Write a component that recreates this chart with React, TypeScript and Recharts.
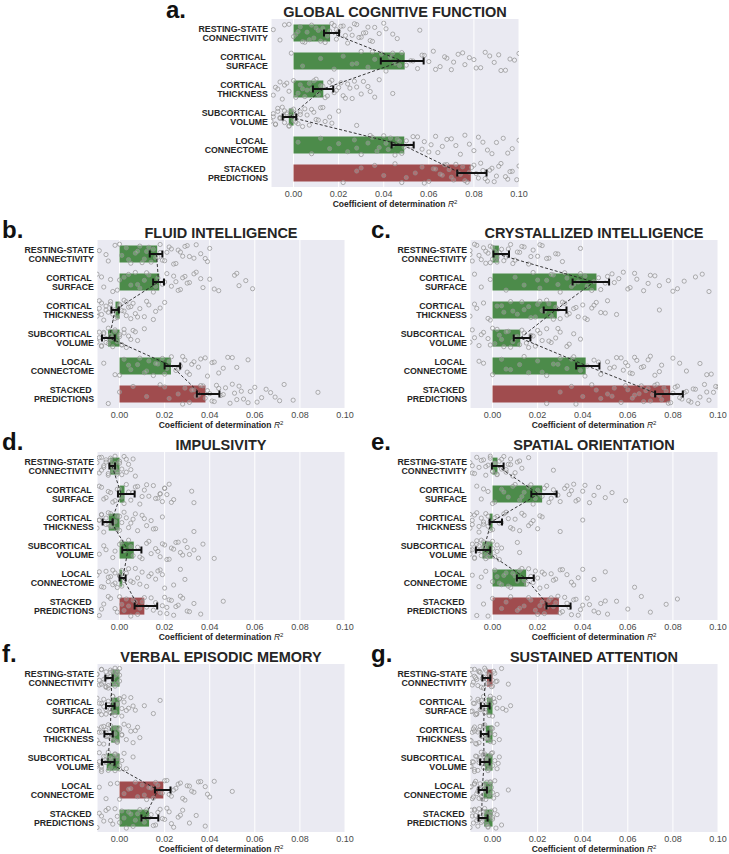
import React from 'react';
import { ComposedChart, ScatterChart, Bar, Cell, Line, ErrorBar, Scatter, XAxis, YAxis, CartesianGrid } from 'recharts';

const FONT = '"Liberation Sans", Arial, Helvetica, sans-serif';

const categories = [
  'RESTING-STATE\nCONNECTIVITY',
  'CORTICAL \nSURFACE',
  'CORTICAL \nTHICKNESS',
  'SUBCORTICAL \nVOLUME',
  'LOCAL \nCONNECTOME',
  'STACKED \nPREDICTIONS',
];
const xTicks = [0, 0.02, 0.04, 0.06, 0.08, 0.1];
const xDomain: [number, number] = [-0.01, 0.1];
const jitter = [0.12, -0.25, 0.31, -0.05, 0.22, -0.33, 0.03, 0.28, -0.18, 0.09, -0.29, 0.17, -0.11, 0.34, -0.22, 0.06, 0.25, -0.36, 0.14, -0.08, 0.3, -0.15, 0.01, -0.27, 0.2, -0.02, 0.35, -0.2, 0.1, -0.31, 0.24, -0.13, 0.05, -0.24, 0.18, -0.34, 0.07, 0.27, -0.09, 0.33, -0.16, 0.0, 0.21, -0.3, 0.15, -0.04, 0.29];

// ---- panel a: global cognitive function
const barsA = [0.0162, 0.0493, 0.0132, -0.0021, 0.0491, 0.0786];
const centerA = [0.0168, 0.0482, 0.013, -0.0018, 0.0484, 0.074];
const lowA = [0.0135, 0.0387, 0.0086, -0.0048, 0.0435, 0.0726];
const highA = [0.0202, 0.0577, 0.0176, 0.0012, 0.0533, 0.0856];
const pointsA = [
  [-0.009, -0.006, -0.002, 0.001, 0.003, 0.005, 0.006, 0.008, 0.009, 0.011, 0.012, 0.013, 0.015, 0.017, 0.019, 0.02, 0.022, 0.024, 0.025, 0.026, 0.028, 0.03, 0.032, 0.034, 0.036, 0.038, 0.04, 0.046, 0.056, 0.004, 0.021,
    0.0, 0.002, 0.007, 0.01, 0.014, 0.016, 0.018, 0.023, 0.027, 0.029, 0.031, 0.033, 0.035, 0.041, 0.044, -0.004, 0.019],
  [-0.001, 0.004, 0.012, 0.018, 0.022, 0.026, 0.03, 0.033, 0.036, 0.039, 0.041, 0.043, 0.045, 0.048, 0.05, 0.052, 0.055, 0.058, 0.06, 0.062, 0.065, 0.068, 0.07, 0.073, 0.076, 0.08, 0.083, 0.087, 0.092, 0.096, 0.1,
    0.028, 0.035, 0.047, 0.053, 0.057, 0.063, 0.067, 0.071, 0.075, 0.078, 0.081, 0.085, 0.089, 0.091, 0.094, 0.098, 0.044],
  [-0.009, -0.008, -0.006, -0.005, -0.004, -0.002, 0.0, 0.002, 0.004, 0.005, 0.007, 0.008, 0.01, 0.011, 0.013, 0.014, 0.016, 0.018, 0.02, 0.022, 0.024, 0.026, 0.028, 0.031, 0.034, 0.038, 0.044,
    -0.007, -0.003, 0.001, 0.003, 0.006, 0.009, 0.012, 0.015, 0.017, 0.019, 0.021, 0.023, 0.025, 0.027, 0.03, 0.033, 0.036],
  [-0.01, -0.009, -0.008, -0.007, -0.006, -0.005, -0.004, -0.003, -0.002, -0.001, 0.0, 0.001, 0.002, 0.003, 0.004, 0.006, 0.008, 0.01, 0.012, 0.014, 0.016, 0.02, 0.028, -0.003, -0.005, 0.005,
    -0.009, -0.008, -0.007, -0.006, -0.004, -0.002, -0.001, 0.0, 0.001, 0.003, 0.007, 0.009, 0.011, 0.013, 0.017],
  [0.002, 0.008, 0.012, 0.016, 0.02, 0.024, 0.027, 0.03, 0.033, 0.035, 0.038, 0.04, 0.042, 0.044, 0.046, 0.048, 0.05, 0.052, 0.055, 0.058, 0.06, 0.063, 0.066, 0.07, 0.074, 0.078, 0.082, 0.086, 0.09, 0.095, 0.1,
    0.028, 0.034, 0.037, 0.041, 0.043, 0.045, 0.047, 0.049, 0.053, 0.057, 0.061, 0.064, 0.068, 0.072, 0.076, 0.08, 0.084, 0.088, 0.093, 0.097],
  [0.022, 0.028, 0.036, 0.04, 0.045, 0.05, 0.054, 0.057, 0.06, 0.062, 0.065, 0.067, 0.069, 0.071, 0.072, 0.074, 0.075, 0.077, 0.078, 0.08, 0.082, 0.084, 0.086, 0.088, 0.09, 0.092, 0.095, 0.097, 0.1,
    0.058, 0.063, 0.066, 0.068, 0.07, 0.073, 0.076, 0.079, 0.081, 0.083, 0.085, 0.087, 0.089, 0.091, 0.094, 0.096, 0.099, 0.03, 0.048],
];

// ---- panel b: fluid intelligence
const barsB = [0.0167, 0.0176, -0.0018, -0.0051, 0.0228, 0.0381];
const centerB = [0.0164, 0.0173, -0.002, -0.0045, 0.0231, 0.036];
const lowB = [0.0134, 0.0149, -0.0036, -0.0078, 0.02, 0.0343];
const highB = [0.019, 0.0197, -0.0003, -0.0021, 0.0269, 0.0443];
const pointsB = [
  [-0.009, -0.005, -0.002, 0.001, 0.003, 0.005, 0.007, 0.009, 0.011, 0.012, 0.014, 0.015, 0.017, 0.018, 0.019, 0.021, 0.022, 0.024, 0.026, 0.028, 0.03, 0.033, 0.036, 0.039, 0.04,
    -0.006, 0.0, 0.004, 0.008, 0.01, 0.013, 0.016, 0.018, 0.02, 0.023, 0.025, 0.027, 0.029, 0.031, 0.034, 0.038],
  [-0.01, -0.007, -0.004, -0.001, 0.002, 0.005, 0.007, 0.009, 0.011, 0.013, 0.015, 0.017, 0.019, 0.021, 0.023, 0.025, 0.027, 0.029, 0.031, 0.034, 0.037, 0.04, 0.044, 0.051, 0.053, 0.056, 0.059,
    -0.008, -0.003, 0.0, 0.004, 0.008, 0.012, 0.016, 0.02, 0.024, 0.026, 0.028, 0.03, 0.033, 0.036, 0.042, 0.052],
  [-0.01, -0.009, -0.008, -0.007, -0.006, -0.005, -0.004, -0.003, -0.002, -0.001, 0.0, 0.001, 0.002, 0.003, 0.004, 0.005, 0.006, 0.007, 0.009, 0.011, 0.013, 0.015, 0.018, 0.02,
    -0.01, -0.009, -0.008, -0.006, -0.004, -0.002, 0.0, 0.002, 0.003, 0.005, 0.008, 0.012, 0.016],
  [-0.01, -0.009, -0.008, -0.007, -0.006, -0.005, -0.005, -0.004, -0.003, -0.002, -0.001, 0.0, 0.001, 0.002, 0.003, 0.004, 0.006, 0.008, 0.011, -0.006, -0.003,
    -0.009, -0.008, -0.007, -0.004, -0.002, 0.0, 0.001, 0.002, 0.005, 0.007],
  [-0.007, -0.002, 0.002, 0.005, 0.008, 0.011, 0.013, 0.015, 0.017, 0.019, 0.021, 0.023, 0.025, 0.027, 0.029, 0.031, 0.033, 0.035, 0.038, 0.041, 0.044, 0.048, 0.052, 0.057,
    0.0, 0.004, 0.009, 0.012, 0.016, 0.02, 0.022, 0.026, 0.028, 0.03, 0.032, 0.036, 0.039, 0.042, 0.046, 0.05],
  [-0.005, 0.0, 0.006, 0.012, 0.018, 0.022, 0.026, 0.029, 0.031, 0.033, 0.035, 0.037, 0.039, 0.041, 0.043, 0.045, 0.047, 0.049, 0.051, 0.053, 0.055, 0.058, 0.061, 0.065, 0.069, 0.073, 0.077, 0.088,
    0.02, 0.028, 0.032, 0.034, 0.036, 0.038, 0.04, 0.042, 0.044, 0.046, 0.05, 0.052, 0.054, 0.057, 0.06, 0.063, 0.067, 0.071],
];

// ---- panel c: crystallized intelligence
const barsC = [0.0028, 0.0461, 0.0285, 0.0123, 0.0413, 0.0788];
const centerC = [0.002, 0.045, 0.028, 0.0123, 0.042, 0.0733];
const lowC = [0.0004, 0.0355, 0.0227, 0.0094, 0.0371, 0.0721];
const highC = [0.0073, 0.0517, 0.0328, 0.0168, 0.0474, 0.0844];
const pointsC = [
  [-0.01, -0.009, -0.007, -0.006, -0.004, -0.003, -0.002, -0.001, 0.0, 0.001, 0.002, 0.004, 0.006, 0.008, 0.01, 0.012, 0.014, 0.016, 0.018, 0.02, 0.022, 0.025, 0.028, 0.031, 0.039,
    -0.01, -0.008, -0.005, -0.003, -0.001, 0.0, 0.002, 0.003, 0.005, 0.007, 0.009, 0.011, 0.013, 0.017, 0.021, 0.024, 0.029],
  [-0.008, -0.005, -0.001, 0.006, 0.01, 0.014, 0.018, 0.021, 0.024, 0.027, 0.03, 0.033, 0.036, 0.039, 0.042, 0.045, 0.048, 0.051, 0.054, 0.058, 0.061, 0.064, 0.067, 0.07, 0.074, 0.078, 0.082, 0.09, 0.096,
    0.02, 0.026, 0.029, 0.032, 0.035, 0.038, 0.041, 0.044, 0.047, 0.05, 0.053, 0.056, 0.06, 0.063, 0.069, 0.072, 0.08, 0.085, 0.093],
  [-0.01, -0.007, -0.004, -0.001, 0.002, 0.005, 0.008, 0.011, 0.014, 0.017, 0.02, 0.022, 0.024, 0.026, 0.028, 0.03, 0.032, 0.034, 0.036, 0.038, 0.04, 0.042, 0.044, 0.046, 0.048, 0.051, 0.055, 0.074,
    -0.008, -0.002, 0.004, 0.009, 0.013, 0.016, 0.019, 0.021, 0.023, 0.025, 0.027, 0.029, 0.031, 0.033, 0.037, 0.041, 0.045, 0.05],
  [-0.01, -0.008, -0.006, -0.004, -0.002, 0.0, 0.001, 0.003, 0.005, 0.007, 0.009, 0.011, 0.012, 0.014, 0.016, 0.018, 0.02, 0.022, 0.024, 0.026, 0.028, 0.03, 0.033, 0.036, 0.039,
    -0.009, -0.005, -0.001, 0.002, 0.004, 0.006, 0.008, 0.01, 0.013, 0.015, 0.017, 0.019, 0.021, 0.025, 0.029, 0.034],
  [-0.004, 0.0, 0.004, 0.008, 0.012, 0.016, 0.02, 0.024, 0.027, 0.03, 0.033, 0.036, 0.039, 0.042, 0.045, 0.048, 0.051, 0.054, 0.057, 0.059, 0.061, 0.063, 0.066, 0.069, 0.072, 0.075, 0.08, 0.086, 0.092, 0.097,
    -0.006, 0.006, 0.014, 0.022, 0.029, 0.035, 0.041, 0.047, 0.052, 0.055, 0.058, 0.06, 0.062, 0.064, 0.067, 0.07, 0.074, 0.083, 0.095],
  [0.024, 0.03, 0.035, 0.04, 0.044, 0.048, 0.051, 0.054, 0.057, 0.06, 0.063, 0.066, 0.068, 0.07, 0.072, 0.074, 0.076, 0.078, 0.08, 0.082, 0.084, 0.086, 0.088, 0.09, 0.092, 0.094, 0.096, 0.098, 0.1,
    0.037, 0.046, 0.053, 0.059, 0.062, 0.065, 0.067, 0.069, 0.071, 0.073, 0.075, 0.077, 0.079, 0.081, 0.083, 0.085, 0.087, 0.089, 0.091, 0.095, 0.099],
];

// ---- panel d: impulsivity
const barsD = [-0.0042, 0.0022, -0.0048, 0.0063, 0.0012, 0.011];
const centerD = [-0.0033, 0.0007, -0.0037, 0.0037, 0.0015, 0.0082];
const lowD = [-0.0045, -0.0007, -0.0075, 0.0012, 0.0, 0.0067];
const highD = [-0.002, 0.0067, -0.003, 0.0097, 0.0027, 0.0167];
const pointsD = [
  [-0.01, -0.009, -0.008, -0.007, -0.006, -0.005, -0.004, -0.004, -0.003, -0.002, -0.001, 0.0, 0.001, 0.002, 0.003, 0.004, 0.006, 0.007, -0.006, -0.002,
    -0.009, -0.008, -0.007, -0.005, -0.004, -0.003, -0.002, -0.001, 0.0, 0.001, 0.003, 0.005],
  [-0.009, -0.007, -0.005, -0.003, -0.001, 0.001, 0.003, 0.005, 0.006, 0.007, 0.009, 0.011, 0.013, 0.015, 0.017, 0.018, 0.019, 0.02, 0.021, 0.022, 0.024, 0.032, 0.033,
    -0.008, -0.006, -0.004, -0.002, 0.0, 0.002, 0.004, 0.008, 0.01, 0.012, 0.016, 0.018, 0.02, 0.023],
  [-0.01, -0.009, -0.008, -0.007, -0.006, -0.005, -0.004, -0.003, -0.002, -0.001, 0.0, 0.001, 0.002, 0.004, 0.006, 0.008, 0.01, 0.012, 0.014, 0.016, 0.019, 0.033,
    -0.009, -0.008, -0.006, -0.005, -0.004, -0.003, -0.001, 0.0, 0.003, 0.005, 0.007, 0.011, 0.015],
  [-0.009, -0.006, -0.003, 0.0, 0.002, 0.004, 0.006, 0.008, 0.01, 0.012, 0.014, 0.016, 0.018, 0.02, 0.021, 0.023, 0.025, 0.027, 0.029, 0.031, 0.033, 0.037, 0.042,
    -0.007, -0.002, 0.001, 0.005, 0.009, 0.013, 0.017, 0.019, 0.022, 0.024, 0.026, 0.028, 0.03, 0.035],
  [-0.01, -0.008, -0.006, -0.005, -0.004, -0.003, -0.002, -0.001, 0.0, 0.001, 0.002, 0.004, 0.006, 0.008, 0.01, 0.012, 0.014, 0.016, 0.018, 0.019, 0.024, 0.027, 0.029,
    -0.009, -0.007, -0.005, -0.003, -0.002, 0.0, 0.001, 0.003, 0.005, 0.007, 0.009, 0.013, 0.017, 0.02],
  [-0.009, -0.007, -0.004, -0.002, 0.0, 0.002, 0.004, 0.006, 0.008, 0.01, 0.012, 0.014, 0.016, 0.018, 0.02, 0.021, 0.022, 0.024, 0.026, 0.028, 0.03, 0.033, 0.036, 0.046,
    -0.008, -0.005, -0.001, 0.001, 0.003, 0.005, 0.007, 0.009, 0.011, 0.015, 0.019, 0.021, 0.023, 0.025, 0.027, 0.031],
];

// ---- panel e: spatial orientation
const barsE = [0.0022, 0.022, -0.0013, -0.0045, 0.0149, 0.0294];
const centerE = [0.002, 0.0205, -0.0006, -0.004, 0.0146, 0.025];
const lowE = [-0.0003, 0.0172, -0.0013, -0.0074, 0.0108, 0.0239];
const highE = [0.0049, 0.0284, 0.0042, -0.001, 0.0183, 0.0346];
const pointsE = [
  [-0.01, -0.009, -0.007, -0.006, -0.004, -0.003, -0.002, -0.001, 0.0, 0.001, 0.002, 0.003, 0.004, 0.005, 0.006, 0.007, 0.008, 0.009, 0.011, 0.013, 0.016, 0.027,
    -0.009, -0.008, -0.005, -0.003, -0.001, 0.0, 0.001, 0.002, 0.004, 0.006, 0.008, 0.01, 0.012],
  [-0.007, -0.005, -0.002, 0.001, 0.004, 0.007, 0.01, 0.012, 0.014, 0.016, 0.018, 0.02, 0.022, 0.024, 0.026, 0.028, 0.03, 0.032, 0.034, 0.036, 0.038, 0.04, 0.043, 0.047, 0.05, 0.053, 0.059,
    -0.004, 0.0, 0.005, 0.009, 0.013, 0.017, 0.019, 0.021, 0.023, 0.025, 0.027, 0.029, 0.033, 0.035, 0.037, 0.041, 0.045],
  [-0.01, -0.009, -0.008, -0.006, -0.005, -0.004, -0.003, -0.002, -0.001, 0.0, 0.002, 0.004, 0.006, 0.008, 0.01, 0.012, 0.014, 0.016, 0.018, 0.02, 0.022, 0.03, 0.04,
    -0.01, -0.009, -0.007, -0.006, -0.004, -0.002, -0.001, 0.001, 0.003, 0.005, 0.007, 0.009, 0.013, 0.017, 0.021],
  [-0.01, -0.009, -0.008, -0.007, -0.006, -0.005, -0.005, -0.004, -0.003, -0.002, -0.001, 0.0, 0.001, 0.002, 0.003, 0.004, 0.011, 0.012, -0.007, -0.003,
    -0.01, -0.009, -0.008, -0.006, -0.005, -0.004, -0.003, -0.002, 0.0, 0.002],
  [-0.009, -0.006, -0.003, 0.0, 0.002, 0.004, 0.006, 0.008, 0.01, 0.012, 0.014, 0.016, 0.018, 0.02, 0.022, 0.024, 0.026, 0.028, 0.03, 0.033, 0.036, 0.04, 0.045, 0.05, 0.063,
    -0.005, 0.001, 0.003, 0.005, 0.007, 0.009, 0.011, 0.013, 0.015, 0.017, 0.019, 0.021, 0.023, 0.027, 0.031, 0.035, 0.038],
  [-0.007, -0.004, 0.0, 0.004, 0.008, 0.011, 0.014, 0.017, 0.02, 0.022, 0.024, 0.026, 0.028, 0.03, 0.032, 0.034, 0.036, 0.038, 0.04, 0.042, 0.045, 0.048, 0.051, 0.055, 0.06, 0.066, 0.07, 0.077, 0.082,
    -0.002, 0.006, 0.012, 0.016, 0.019, 0.021, 0.023, 0.025, 0.027, 0.029, 0.031, 0.033, 0.035, 0.037, 0.039, 0.043, 0.047, 0.05],
];

// ---- panel f: verbal episodic memory
const barsF = [-0.0037, -0.0037, -0.0037, -0.0057, 0.0194, 0.0131];
const centerF = [-0.0035, -0.0037, -0.0042, -0.0052, 0.017, 0.011];
const lowF = [-0.0063, -0.006, -0.0067, -0.0078, 0.0157, 0.0097];
const highF = [-0.003, -0.0022, -0.003, -0.0022, 0.0226, 0.0172];
const pointsF = [
  [-0.01, -0.009, -0.008, -0.007, -0.006, -0.006, -0.005, -0.004, -0.003, -0.002, -0.002, -0.001, 0.0, 0.0, -0.008, -0.004, -0.001, -0.005,
    -0.01, -0.009, -0.008, -0.007, -0.006, -0.005, -0.004, -0.003, -0.002, -0.001, 0.0, -0.006, -0.003],
  [-0.01, -0.009, -0.008, -0.006, -0.005, -0.004, -0.003, -0.002, -0.001, 0.0, 0.001, 0.002, 0.004, 0.005, 0.007, 0.011, 0.015, 0.018, -0.007, -0.003,
    -0.01, -0.009, -0.008, -0.007, -0.006, -0.005, -0.004, -0.003, -0.002, -0.001, 0.0, 0.001, 0.002, 0.003, 0.006],
  [-0.01, -0.009, -0.008, -0.007, -0.006, -0.005, -0.004, -0.003, -0.002, -0.001, 0.0, 0.001, 0.002, 0.003, 0.005, 0.006, 0.008, 0.009, -0.006, -0.002,
    -0.01, -0.009, -0.008, -0.007, -0.006, -0.005, -0.004, -0.003, -0.002, -0.001, 0.0, 0.001, 0.004, 0.007],
  [-0.01, -0.009, -0.008, -0.007, -0.006, -0.005, -0.004, -0.003, -0.002, -0.001, 0.0, 0.001, 0.003, 0.006, -0.008, -0.005, -0.002,
    -0.01, -0.009, -0.008, -0.007, -0.006, -0.005, -0.004, -0.003, -0.002, -0.001, 0.0, 0.002],
  [-0.009, -0.006, -0.001, 0.002, 0.005, 0.008, 0.01, 0.012, 0.014, 0.016, 0.018, 0.02, 0.022, 0.024, 0.026, 0.028, 0.03, 0.032, 0.035, 0.038, 0.04, 0.042, 0.05,
    -0.004, 0.0, 0.004, 0.007, 0.011, 0.013, 0.015, 0.017, 0.019, 0.021, 0.023, 0.025, 0.027, 0.029, 0.031, 0.033, 0.036, 0.039],
  [-0.01, -0.008, -0.006, -0.004, -0.002, 0.0, 0.002, 0.004, 0.006, 0.008, 0.01, 0.012, 0.014, 0.016, 0.018, 0.02, 0.022, 0.024, 0.026, 0.028, 0.031, 0.034, 0.038,
    -0.009, -0.007, -0.005, -0.003, -0.001, 0.001, 0.003, 0.005, 0.007, 0.009, 0.011, 0.013, 0.015, 0.017, 0.019, 0.021, 0.023, 0.027],
];

// ---- panel g: sustained attention
const barsG = [-0.0025, -0.0025, -0.003, -0.0033, -0.004, -0.0037];
const centerG = [-0.0033, -0.0037, -0.004, -0.0037, -0.0046, -0.0048];
const lowG = [-0.0045, -0.0052, -0.0052, -0.0055, -0.0062, -0.0062];
const highG = [-0.001, -0.0013, -0.0018, -0.0013, -0.0025, -0.0022];
const pointsG = [
  [-0.01, -0.009, -0.008, -0.007, -0.006, -0.005, -0.004, -0.003, -0.002, -0.001, 0.0, 0.001, 0.002, 0.004, 0.007, -0.008, -0.006, -0.004, -0.002, 0.0,
    -0.0095, -0.0085, -0.0075, -0.0065, -0.0055, -0.0045, -0.0035, -0.0025, -0.0015, -0.0005, 0.0005, 0.0015],
  [-0.01, -0.009, -0.008, -0.007, -0.006, -0.005, -0.004, -0.003, -0.002, -0.001, 0.0, 0.001, 0.002, 0.003, 0.006, 0.008, -0.007, -0.005, -0.003, -0.001,
    -0.0095, -0.0085, -0.0075, -0.0065, -0.0055, -0.0045, -0.0035, -0.0025, -0.0015, -0.0005, 0.0005, 0.0045],
  [-0.01, -0.009, -0.008, -0.007, -0.006, -0.005, -0.004, -0.003, -0.002, -0.001, 0.0, 0.001, 0.002, 0.003, -0.008, -0.006, -0.004, -0.002, -0.001,
    -0.0095, -0.0085, -0.0075, -0.0065, -0.0055, -0.0045, -0.0035, -0.0025, -0.0015, -0.0005, 0.0005],
  [-0.01, -0.009, -0.008, -0.007, -0.006, -0.005, -0.004, -0.003, -0.002, -0.001, 0.0, 0.001, 0.002, 0.003, -0.008, -0.006, -0.004, -0.002, 0.0,
    -0.0095, -0.0085, -0.0075, -0.0065, -0.0055, -0.0045, -0.0035, -0.0025, -0.0015, -0.0005, 0.0025],
  [-0.01, -0.009, -0.008, -0.007, -0.006, -0.005, -0.004, -0.003, -0.002, -0.001, 0.0, 0.001, 0.002, 0.007, -0.008, -0.006, -0.004, -0.003, -0.001,
    -0.0095, -0.0085, -0.0075, -0.0065, -0.0055, -0.0045, -0.0035, -0.0025, -0.0015, -0.0005, 0.0005],
  [-0.01, -0.009, -0.008, -0.007, -0.006, -0.005, -0.004, -0.003, -0.002, -0.001, 0.0, 0.001, 0.002, 0.004, -0.008, -0.006, -0.004, -0.002, 0.0,
    -0.0095, -0.0085, -0.0075, -0.0065, -0.0055, -0.0045, -0.0035, -0.0025, -0.0015, -0.0005, 0.0015],
];

const panelLetters = ['a.', 'b.', 'c.', 'd.', 'e.', 'f.', 'g.'];
const panelTitles = ['GLOBAL COGNITIVE FUNCTION', 'FLUID INTELLIGENCE', 'CRYSTALLIZED INTELLIGENCE', 'IMPULSIVITY', 'SPATIAL ORIENTATION', 'VERBAL EPISODIC MEMORY', 'SUSTAINED ATTENTION'];
const highlightIndex = [5, 5, 5, 5, 5, 4, 0];
const barValues = [barsA, barsB, barsC, barsD, barsE, barsF, barsG];
const centerValues = [centerA, centerB, centerC, centerD, centerE, centerF, centerG];
const lowValues = [lowA, lowB, lowC, lowD, lowE, lowF, lowG];
const highValues = [highA, highB, highC, highD, highE, highF, highG];
const pointValues = [pointsA, pointsB, pointsC, pointsD, pointsE, pointsF, pointsG];

// layout (page coordinates of each plot area)
const PLOT_W = 248;
const PLOT_H = 168;
const YAXIS_W = 90;
const XAXIS_H = 30;
const RIGHT_M = 12;
const CHART_W = YAXIS_W + PLOT_W + RIGHT_M;
const CHART_H = PLOT_H + XAXIS_H;
const plotPos = [
  { left: 271, top: 19, letterX: 166 },
  { left: 97, top: 240, letterX: 2 },
  { left: 470, top: 240, letterX: 371 },
  { left: 97, top: 452, letterX: 2 },
  { left: 470, top: 452, letterX: 371 },
  { left: 97, top: 664, letterX: 2 },
  { left: 470, top: 664, letterX: 371 },
];

const GREEN = '#4c8b4a';
const RED = '#a04c4e';

const CatTick = (props: any) => {
  const { x, y, payload } = props;
  const lines = String(payload.value).split('\n');
  return (
    <text x={x} y={y} textAnchor="end" fontFamily={FONT} fontSize={8.8} fontWeight="bold" fill="#262626" xmlSpace="preserve" style={{ whiteSpace: 'pre' }}>
      <tspan x={x} y={y - 0.7}>{lines[0]}</tspan>
      <tspan x={x} y={y + 8.4}>{lines[1]}</tspan>
    </text>
  );
};

const Dot = (props: any) => {
  const { cx, cy } = props;
  if (cx == null || cy == null || isNaN(cx) || isNaN(cy)) return null;
  return <circle cx={cx} cy={cy} r={2.1} fill="rgba(255,255,255,0.2)" stroke="#8f8f8f" strokeWidth={0.7} />;
};

const layerStyle = (left: number, top: number): React.CSSProperties => ({ position: 'absolute', left, top });

function Panel({ idx }: { idx: number }) {
  const pos = plotPos[idx];
  const bars = barValues[idx];
  const centers = centerValues[idx];
  const lows = lowValues[idx];
  const highs = highValues[idx];
  const nCat = categories.length;
  const rows = categories.map((cat, i) => ({
    cat,
    bar: bars[i],
    center: centers[i],
    err: [centers[i] - lows[i], highs[i] - centers[i]],
  }));
  // one point set per category; "pos" = row slot counted from the bottom of the plot, plus a small jitter
  const groups = pointValues[idx].map((arr, i) =>
    arr.map((v, k) => ({ val: v, pos: nCat - 1 - i + jitter[(k + i * 7) % jitter.length] }))
  );
  const L = pos.left - YAXIS_W;
  const T = pos.top;
  const overlayMargin = { top: 0, right: RIGHT_M, bottom: XAXIS_H, left: YAXIS_W };
  return (
    <>
      {/* background, grid, bars and axes */}
      <div style={layerStyle(L, T)}>
        <ComposedChart
          width={CHART_W}
          height={CHART_H}
          layout="vertical"
          data={rows}
          margin={{ top: 0, right: RIGHT_M, bottom: 0, left: 0 }}
          barCategoryGap="20%"
        >
          <CartesianGrid horizontal={false} stroke="#ffffff" strokeWidth={1} fill="#eaeaf2" />
          <XAxis
            type="number"
            domain={xDomain}
            ticks={xTicks}
            allowDataOverflow
            axisLine={false}
            tickLine={false}
            tickSize={0}
            tickMargin={4}
            height={XAXIS_H}
            interval={0}
            tickFormatter={(v: number) => v.toFixed(2)}
            tick={{ fontSize: 9, fill: '#4a4a4a', fontFamily: FONT }}
          />
          <YAxis
            type="category"
            dataKey="cat"
            width={YAXIS_W}
            axisLine={false}
            tickLine={false}
            tickSize={0}
            tickMargin={3}
            interval={0}
            tick={(p: any) => <CatTick {...p} />}
          />
          <Bar dataKey="bar" isAnimationActive={false}>
            {rows.map((r, i) => (
              <Cell key={i} fill={i === highlightIndex[idx] ? RED : GREEN} />
            ))}
          </Bar>
        </ComposedChart>
      </div>
      {/* jittered individual points */}
      <div style={layerStyle(L, T)}>
        <ScatterChart width={CHART_W} height={CHART_H} margin={overlayMargin}>
          <XAxis xAxisId="px" type="number" dataKey="val" domain={xDomain} allowDataOverflow hide />
          <YAxis yAxisId="py" type="number" dataKey="pos" domain={[-0.5, nCat - 0.5]} allowDataOverflow hide />
          {groups.map((g, i) => (
            <Scatter
              key={i}
              name={`row${i}`}
              data={g}
              xAxisId="px"
              yAxisId="py"
              shape={(p: any) => <Dot {...p} />}
              isAnimationActive={false}
            />
          ))}
        </ScatterChart>
      </div>
      {/* dashed connecting line and error bars */}
      <div style={layerStyle(L, T)}>
        <ComposedChart width={CHART_W} height={CHART_H} layout="vertical" data={rows} margin={overlayMargin}>
          <XAxis type="number" domain={xDomain} allowDataOverflow hide />
          <YAxis type="category" dataKey="cat" scale="band" hide />
          <Line
            dataKey="center"
            stroke="#222"
            strokeWidth={0.9}
            strokeDasharray="3 2"
            dot={false}
            activeDot={false}
            isAnimationActive={false}
          >
            <ErrorBar dataKey="err" direction="x" width={3.5} stroke="#111" strokeWidth={2} isAnimationActive={false} />
          </Line>
        </ComposedChart>
      </div>
    </>
  );
}

export default function App() {
  return (
    <div style={{ position: 'absolute', left: 0, top: 0, width: 729, height: 854, background: '#fff', overflow: 'hidden' }}>
      <svg width={729} height={854} style={{ position: 'absolute', left: 0, top: 0 }}>
        {plotPos.map((p, i) => (
          <g key={i} fontFamily={FONT}>
            <text x={p.letterX} y={i === 0 ? 18 : p.top - 2.5} fontSize={24} fontWeight="bold" fill="#111">{panelLetters[i]}</text>
            <text x={p.left + PLOT_W / 2} y={p.top - 2.5} fontSize={14.5} fontWeight="bold" textAnchor="middle" fill="#262626">{panelTitles[i]}</text>
            <text x={p.left + PLOT_W / 2} y={p.top + PLOT_H + 20} fontSize={8.5} fontWeight="bold" textAnchor="middle" fill="#262626">
              Coefficient of determination <tspan fontStyle="italic" fontWeight="normal">R</tspan>
              <tspan fontSize={6} dy={-3.5} fontWeight="normal">2</tspan>
            </text>
          </g>
        ))}
      </svg>
      {plotPos.map((_, i) => (
        <Panel key={i} idx={i} />
      ))}
    </div>
  );
}
